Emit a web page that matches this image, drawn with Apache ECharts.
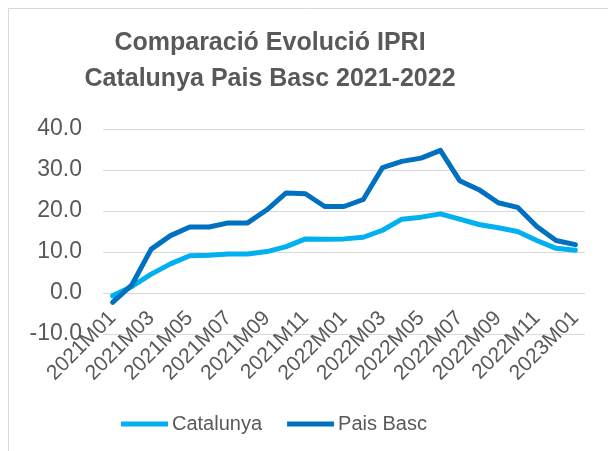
<!DOCTYPE html>
<html>
<head>
<meta charset="utf-8">
<script src="https://cdn.jsdelivr.net/npm/echarts@6/dist/echarts.min.js"></script>
<style>
  html, body { margin: 0; padding: 0; background: #fff; }
  #main { width: 608px; height: 451px; }
</style>
</head>
<body>
<div id="main"></div>
<script>
// months shown on the x axis
var months = [
  "2021M01", "2021M02", "2021M03", "2021M04", "2021M05", "2021M06",
  "2021M07", "2021M08", "2021M09", "2021M10", "2021M11", "2021M12",
  "2022M01", "2022M02", "2022M03", "2022M04", "2022M05", "2022M06",
  "2022M07", "2022M08", "2022M09", "2022M10", "2022M11", "2022M12",
  "2023M01"
];
var catalunya = [
  -0.7, 1.6, 4.6, 7.1, 9.1, 9.2, 9.5, 9.5, 10.1, 11.3, 13.2, 13.1,
  13.2, 13.6, 15.3, 18.0, 18.5, 19.3, 18.0, 16.7, 15.9, 15.0, 12.8, 10.9,
  10.4
];
var paisBasc = [
  -2.3, 2.0, 10.7, 14.0, 16.1, 16.1, 17.1, 17.1, 20.3, 24.4, 24.2, 21.1,
  21.1, 22.8, 30.6, 32.1, 32.9, 34.8, 27.4, 25.2, 22.0, 20.9, 16.2, 12.8,
  11.8
];
var yMin = -10, yMax = 40, yStep = 10;

var textColor = "#595959";
var gridColor = "#d9d9d9";

var chart = echarts.init(document.getElementById("main"));
chart.setOption({
  backgroundColor: "#fff",
  animation: false,
  textStyle: { fontFamily: "Liberation Sans, Arial, sans-serif" },
  graphic: [{
    type: "rect",
    shape: { x: 8.5, y: 8.5, width: 700, height: 500 },
    style: { fill: "none", stroke: gridColor, lineWidth: 1 },
    z: -1
  }],
  title: {
    text: "Comparació Evolució IPRI\nCatalunya Pais Basc 2021-2022",
    left: 265,
    top: 20,
    textAlign: "center",
    textStyle: {
      color: textColor,
      fontSize: 25,
      fontWeight: "bold",
      lineHeight: 36
    }
  },
  legend: {
    left: 116,
    top: 409,
    icon: "rect",
    itemWidth: 47,
    itemHeight: 5,
    itemGap: 25,
    textStyle: { color: textColor, fontSize: 20, padding: [0, 0, 0, -1] },
    data: ["Catalunya", "Pais Basc"]
  },
  grid: { left: 103, right: 23, top: 129, bottom: 117 },
  xAxis: {
    type: "category",
    data: months,
    boundaryGap: true,
    offset: -41, // axis crosses at 0, like the source chart
    axisLine: { show: false, onZero: false },
    axisTick: { show: false },
    axisLabel: {
      interval: 1,
      rotate: 45,
      margin: 22,
      color: textColor,
      fontSize: 21
    }
  },
  yAxis: {
    type: "value",
    min: yMin,
    max: yMax,
    interval: yStep,
    axisLine: { show: false },
    axisTick: { show: false },
    splitLine: { lineStyle: { color: gridColor, width: 1 } },
    axisLabel: {
      margin: 21,
      color: textColor,
      fontSize: 23,
      formatter: function (v) { return v.toFixed(1); }
    }
  },
  series: [
    {
      name: "Catalunya",
      type: "line",
      data: catalunya,
      symbol: "none",
      color: "#00b0f0",
      lineStyle: { width: 5, cap: "round", join: "round" },
      z: 2
    },
    {
      name: "Pais Basc",
      type: "line",
      data: paisBasc,
      symbol: "none",
      color: "#0070c0",
      lineStyle: { width: 5, cap: "round", join: "round" },
      z: 3
    }
  ]
});
</script>
</body>
</html>
